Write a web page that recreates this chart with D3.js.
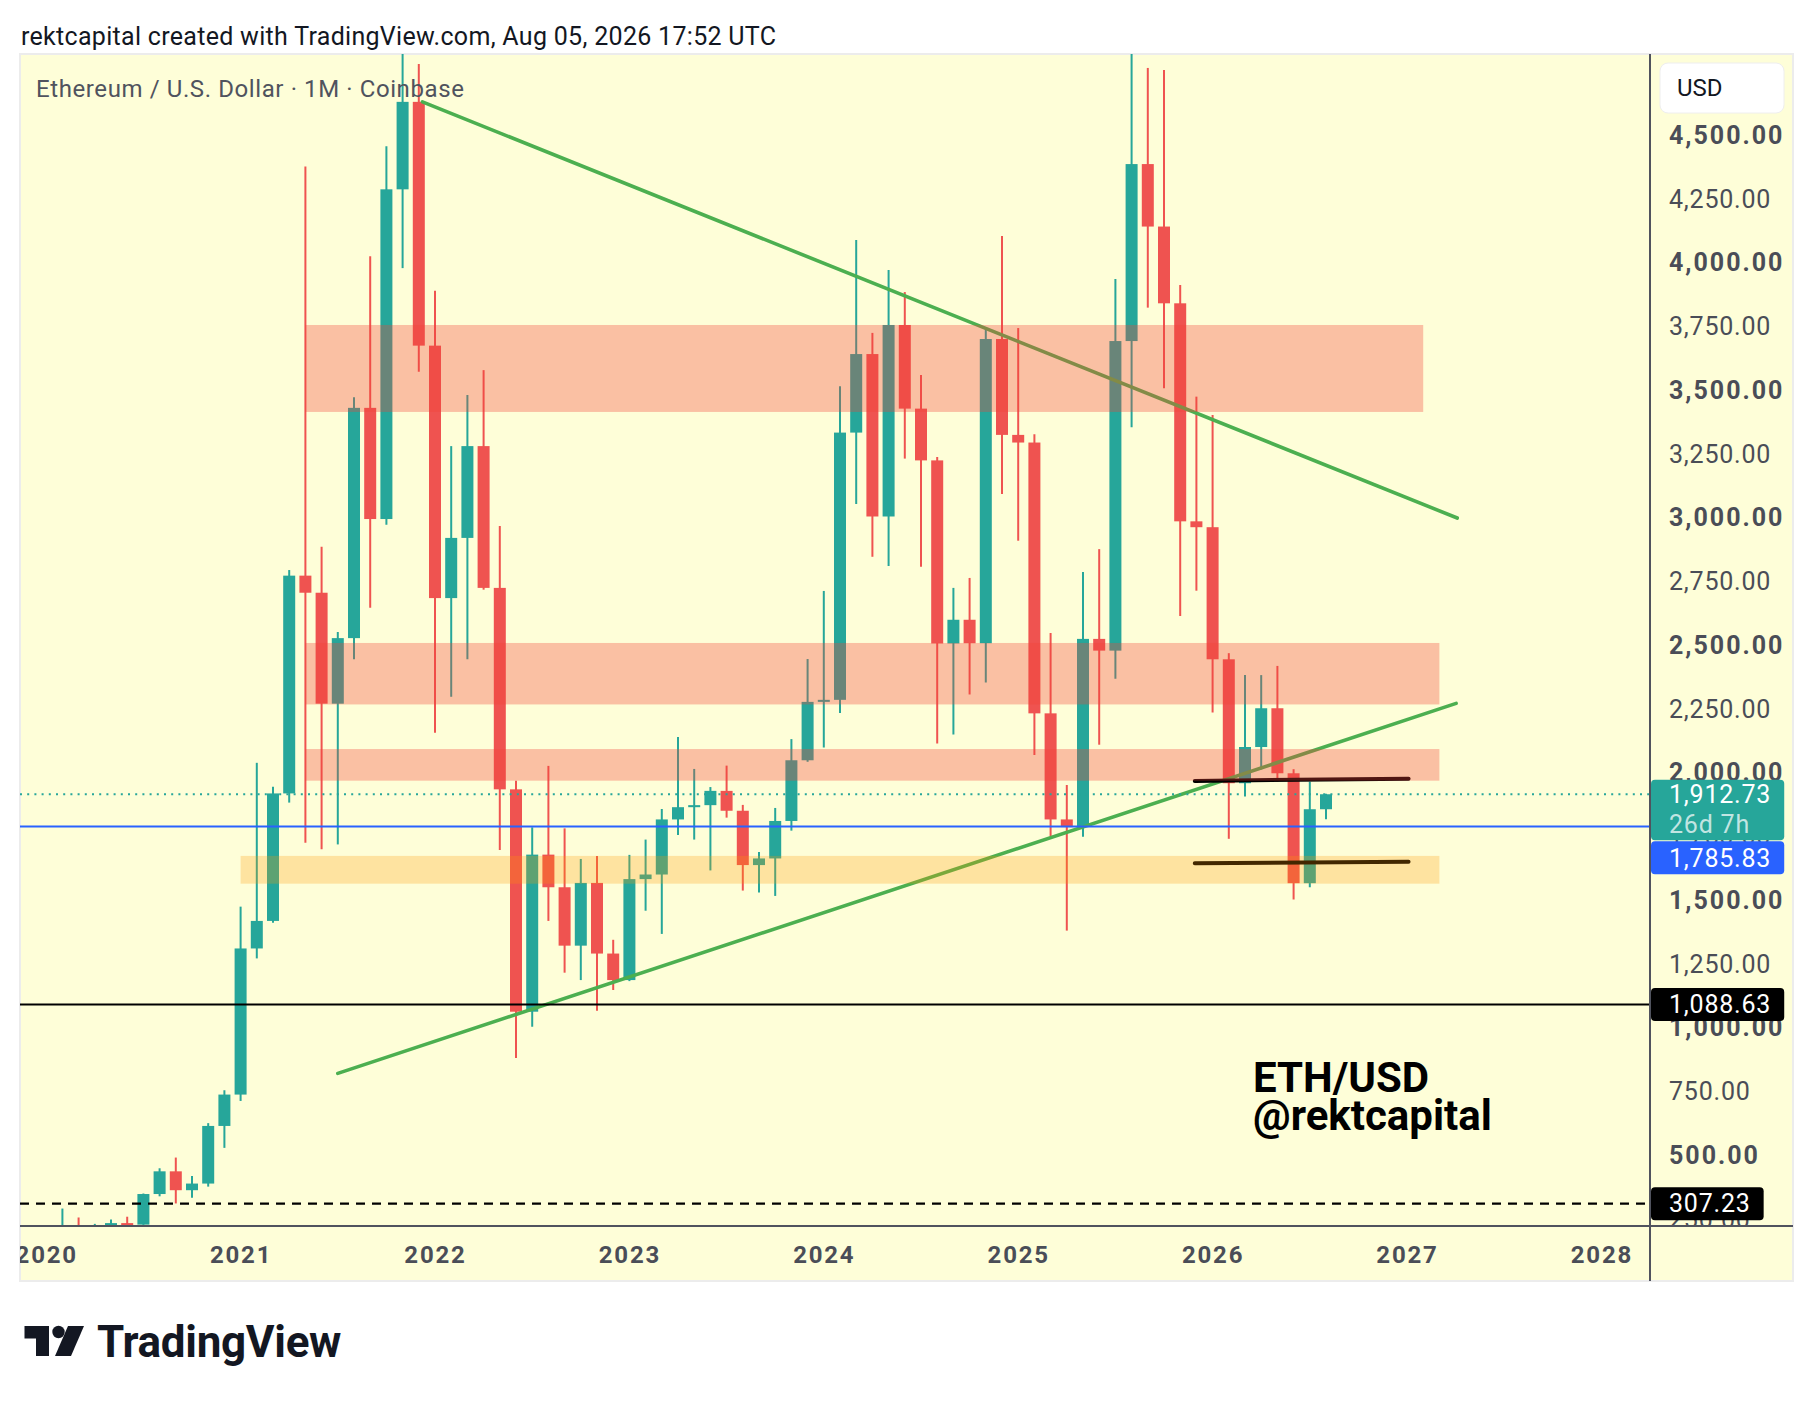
<!DOCTYPE html>
<html>
<head>
<meta charset="utf-8">
<script src="https://cdn.jsdelivr.net/npm/d3@7"></script>
<style>
  html, body { margin: 0; padding: 0; background: #ffffff; }
  svg { display: block; }
</style>
</head>
<body>
<script>
// ETH/USD monthly bars, Jan 2020 -> Aug 2026
const months = [
  '2020-01','2020-02','2020-03','2020-04','2020-05','2020-06','2020-07','2020-08','2020-09','2020-10','2020-11','2020-12',
  '2021-01','2021-02','2021-03','2021-04','2021-05','2021-06','2021-07','2021-08','2021-09','2021-10','2021-11','2021-12',
  '2022-01','2022-02','2022-03','2022-04','2022-05','2022-06','2022-07','2022-08','2022-09','2022-10','2022-11','2022-12',
  '2023-01','2023-02','2023-03','2023-04','2023-05','2023-06','2023-07','2023-08','2023-09','2023-10','2023-11','2023-12',
  '2024-01','2024-02','2024-03','2024-04','2024-05','2024-06','2024-07','2024-08','2024-09','2024-10','2024-11','2024-12',
  '2025-01','2025-02','2025-03','2025-04','2025-05','2025-06','2025-07','2025-08','2025-09','2025-10','2025-11','2025-12',
  '2026-01','2026-02','2026-03','2026-04','2026-05','2026-06','2026-07','2026-08'
];
const open = [
  129,179,218,133,206,231,225,345,434,360,386,612,
  735,1308,1416,1916,2770,2703,2268,2525,3428,2992,4285,4628,
  3672,2682,2918,3278,2722,1932,1060,1676,1548,1319,1565,1288,
  1184,1580,1598,1814,1862,1870,1926,1848,1635,1661,1808,2046,
  2275,2283,3331,3639,3002,3753,3425,3222,2504,2597,2505,3698,
  3322,3292,2230,1814,1784,2522,2476,3690,4384,4139,3838,2983,
  2960,2442,1956,2098,2250,1995,1564,1854
];
const high = [
  183,288,253,228,245,256,347,446,488,416,623,752,
  1472,2036,1942,2792,4375,2883,2549,3470,4023,4454,4868,4776,
  3887,3278,3478,3576,2965,1966,1783,2024,1779,1659,1671,1342,
  1675,1735,1855,2137,2012,1941,2025,1871,1686,1859,2129,2443,
  2710,3513,4086,3722,3969,3882,3557,3235,2722,2761,3736,4102,
  3741,3325,2545,1949,2784,2874,3933,4956,4761,4753,3910,3472,
  3400,2466,2380,2380,2416,2011,1962,1915
];
const low = [
  127,179,90,130,177,215,224,336,308,330,374,526,
  710,1269,1409,1880,1723,1697,1716,2442,2644,2970,3976,3570,
  2154,2295,2442,2715,1694,878,1001,1416,1213,1184,1064,1145,
  1180,1456,1365,1753,1735,1614,1821,1535,1527,1514,1770,2040,
  2096,2231,3051,2844,2808,3229,2805,2112,2147,2304,2351,3090,
  2907,2067,1749,1378,1746,2107,2366,3352,3821,3505,2612,2711,
  2233,1738,1904,2010,1962,1500,1548,1815
];
const close = [
  179,218,133,206,231,225,345,434,360,386,612,735,
  1308,1416,1916,2770,2703,2268,2525,3428,2992,4285,4628,3672,
  2682,2918,3278,2722,1932,1060,1676,1548,1319,1565,1288,1184,
  1580,1598,1814,1862,1870,1926,1848,1635,1661,1808,2046,2275,
  2283,3331,3639,3002,3753,3425,3222,2504,2597,2505,3698,3322,
  3292,2230,1814,1784,2522,2476,3690,4384,4139,3838,2983,2960,
  2442,1956,2098,2250,1995,1564,1854,1912.73
];

const yearLabels = ['2020','2021','2022','2023','2024','2025','2026','2027','2028'];
const priceTicks = [250,500,750,1000,1250,1500,1750,2000,2250,2500,2750,3000,3250,3500,3750,4000,4250,4500];

// drawn zones (supply in red, demand in orange)
const zoneStart  = ['2021-05','2021-05','2021-05','2021-01'];
const zoneEnd    = ['2027-02','2027-03','2027-03','2027-03'];
const zoneTop    = [3753, 2506, 2090, 1671];
const zoneBottom = [3412, 2265, 1966, 1562];
const zoneKind   = ['supply','supply','supply','demand'];

// trendlines: start date / price -> end date / price
const greenFrom  = ['2021-12-08', '2021-07-01'];
const greenFromP = [4628, 818];
const greenTo    = ['2027-04-04', '2027-04-02'];
const greenToP   = [2996, 2269];

const blackFrom  = ['2025-11-28', '2025-11-28'];
const blackFromP = [1965, 1642];
const blackTo    = ['2027-01-04', '2027-01-04'];
const blackToP   = [1974, 1648];

// horizontal price lines
const linePrice = [1912.73, 1785.83, 1088.63, 307.23];
const lineKind  = ['last', 'blue', 'black', 'dashed'];
const countdown = '26d 7h';


const W = 1814, H = 1402;
const plot = {left: 20, right: 1650, top: 54, bottom: 1226};
const frame = {left: 20, right: 1793, top: 54, bottom: 1281};
const UP = '#26a69a', DOWN = '#ef5350';
const AXIS_FONT = 'Roboto, "Noto Sans", sans-serif';

function monthIndex(s) {
	// "YYYY-MM" or "YYYY-MM-DD" -> bar index counted from Jan 2020
	const p = s.split('-').map(Number);
	let idx = (p[0] - 2020) * 12 + (p[1] - 1);
	if (p.length > 2) {
		idx += (p[2] - 1) / new Date(p[0], p[1], 0).getDate();
	}
	return idx;
}

const x = d3.scaleLinear().domain([0, 96]).range([46.2, 1601.4]);
const y = d3.scaleLinear().domain([500, 4500]).range([1154.5, 134.5]);

const bars = months.map((m, i) => ({
	t: monthIndex(m), o: open[i], h: high[i], l: low[i], c: close[i]
}));

const svg = d3.select('body').append('svg')
	.attr('width', W)
	.attr('height', H);

const defs = svg.append('defs');
defs.append('clipPath').attr('id', 'plotClip')
	.append('rect')
	.attr('x', plot.left).attr('y', plot.top)
	.attr('width', plot.right - plot.left).attr('height', plot.bottom - plot.top);
defs.append('clipPath').attr('id', 'axisClip')
	.append('rect')
	.attr('x', plot.right + 1).attr('y', plot.top)
	.attr('width', frame.right - plot.right - 1).attr('height', plot.bottom - plot.top);
defs.append('clipPath').attr('id', 'timeClip')
	.append('rect')
	.attr('x', plot.left).attr('y', plot.bottom)
	.attr('width', plot.right - plot.left).attr('height', frame.bottom - plot.bottom);

// header line above the chart
svg.append('text')
	.attr('x', 21)
	.attr('y', 36)
	.attr('dy', '0.35em')
	.attr('font-family', AXIS_FONT)
	.attr('font-size', 25)
	.attr('letter-spacing', 0.3)
	.attr('fill', '#131722')
	.text('rektcapital created with TradingView.com, Aug 05, 2026 17:52 UTC');

// chart background
svg.append('rect')
	.attr('x', frame.left)
	.attr('y', frame.top)
	.attr('width', frame.right - frame.left)
	.attr('height', frame.bottom - frame.top)
	.attr('fill', '#fefed8')
	.attr('stroke', '#ececec')
	.attr('stroke-width', 2);

const chart = svg.append('g').attr('clip-path', 'url(#plotClip)');

// CANDLES
const candles = chart.append('g').classed('candles', true);
candles.selectAll('line')
	.data(bars)
	.join('line')
	.attr('x1', d => x(d.t))
	.attr('x2', d => x(d.t))
	.attr('y1', d => y(d.h))
	.attr('y2', d => y(d.l))
	.attr('stroke', d => d.c >= d.o ? UP : DOWN)
	.attr('stroke-width', 2);
candles.selectAll('rect')
	.data(bars)
	.join('rect')
	.attr('x', d => x(d.t) - 6)
	.attr('width', 12)
	.attr('y', d => y(Math.max(d.o, d.c)))
	.attr('height', d => Math.max(2, Math.abs(y(d.o) - y(d.c))))
	.attr('fill', d => d.c >= d.o ? UP : DOWN);

// TRENDLINES
const lines = chart.append('g').classed('trendlines', true);
greenFrom.forEach((f, i) => {
	lines.append('line')
		.attr('x1', x(monthIndex(f)))
		.attr('y1', y(greenFromP[i]))
		.attr('x2', x(monthIndex(greenTo[i])))
		.attr('y2', y(greenToP[i]))
		.attr('stroke', '#4caf50')
		.attr('stroke-width', 3.6)
		.attr('stroke-linecap', 'round');
});
blackFrom.forEach((f, i) => {
	lines.append('line')
		.attr('x1', x(monthIndex(f)))
		.attr('y1', y(blackFromP[i]))
		.attr('x2', x(monthIndex(blackTo[i])))
		.attr('y2', y(blackToP[i]))
		.attr('stroke', '#000000')
		.attr('stroke-width', 4)
		.attr('stroke-linecap', 'round');
});

// ZONES (semi transparent, on top of the candles)
const zones = chart.append('g').classed('zones', true);
zoneStart.forEach((s, i) => {
	zones.append('rect')
		.attr('x', x(monthIndex(s)))
		.attr('width', x(monthIndex(zoneEnd[i])) - x(monthIndex(s)))
		.attr('y', y(zoneTop[i]))
		.attr('height', y(zoneBottom[i]) - y(zoneTop[i]))
		.attr('fill', zoneKind[i] == 'supply' ? 'rgba(244,67,54,0.33)' : 'rgba(255,152,0,0.26)');
});

// HORIZONTAL PRICE LINES
const priceLines = chart.append('g').classed('price-lines', true);
linePrice.forEach((p, i) => {
	const kind = lineKind[i];
	const ln = priceLines.append('line')
		.attr('x1', plot.left)
		.attr('x2', plot.right)
		.attr('y1', y(p))
		.attr('y2', y(p));
	if (kind == 'last') {
		ln.attr('stroke', UP).attr('stroke-width', 2).attr('stroke-dasharray', '2 5.2');
	} else if (kind == 'blue') {
		ln.attr('stroke', '#2962ff').attr('stroke-width', 2);
	} else if (kind == 'black') {
		ln.attr('stroke', '#000000').attr('stroke-width', 2);
	} else {
		ln.attr('stroke', '#000000').attr('stroke-width', 2.4).attr('stroke-dasharray', '9 7');
	}
});

// chart title
svg.append('text')
	.attr('x', 36)
	.attr('y', 89)
	.attr('dy', '0.35em')
	.attr('font-family', AXIS_FONT)
	.attr('font-size', 24)
	.attr('letter-spacing', 0.6)
	.attr('fill', '#50535e')
	.text('Ethereum / U.S. Dollar \u00b7 1M \u00b7 Coinbase');

// watermark text
const sig = svg.append('text')
	.attr('font-family', AXIS_FONT)
	.attr('font-size', 42)
	.attr('font-weight', 700)
	.attr('fill', '#000000');
sig.append('tspan').attr('x', 1253).attr('y', 1092).text('ETH/USD');
sig.append('tspan').attr('x', 1253).attr('y', 1130).text('@rektcapital');

// PRICE AXIS
const yAxis = d3.axisRight(y)
	.tickValues(priceTicks)
	.tickFormat(d3.format(',.2f'))
	.tickSize(0)
	.tickPadding(0);
const gy = svg.append('g')
	.attr('clip-path', 'url(#axisClip)')
	.append('g')
	.attr('transform', 'translate(1669,0)')
	.call(yAxis)
	.attr('font-family', AXIS_FONT)
	.attr('font-size', 25);
gy.select('.domain').remove();
gy.selectAll('.tick text')
	.attr('fill', '#4a4d57')
	.attr('dy', '0.35em')
	.attr('font-weight', d => d % 500 === 0 ? 700 : 400)
	.attr('letter-spacing', d => d % 500 === 0 ? 2.0 : 0.8);

// TIME AXIS
const xAxis = d3.axisBottom(x)
	.tickValues(yearLabels.map(s => monthIndex(s + '-01')))
	.tickFormat((d, i) => yearLabels[i])
	.tickSize(0)
	.tickPadding(0);
const gx = svg.append('g')
	.attr('clip-path', 'url(#timeClip)')
	.append('g')
	.attr('transform', 'translate(0,1255)')
	.call(xAxis)
	.attr('font-family', AXIS_FONT)
	.attr('font-size', 24);
gx.select('.domain').remove();
gx.selectAll('.tick text')
	.attr('fill', '#4a4d57')
	.attr('y', 0)
	.attr('dy', '0.35em')
	.attr('font-weight', 700)
	.attr('letter-spacing', 1.8);

// axis separators
svg.append('line')
	.attr('x1', plot.right).attr('x2', plot.right)
	.attr('y1', frame.top).attr('y2', frame.bottom)
	.attr('stroke', '#50535e').attr('stroke-width', 2);
svg.append('line')
	.attr('x1', frame.left).attr('x2', frame.right)
	.attr('y1', plot.bottom).attr('y2', plot.bottom)
	.attr('stroke', '#50535e').attr('stroke-width', 2);

// currency button
svg.append('rect')
	.attr('x', 1660).attr('y', 63)
	.attr('width', 124).attr('height', 50)
	.attr('rx', 8)
	.attr('fill', '#ffffff')
	.attr('stroke', '#eeeeee');
svg.append('text')
	.attr('x', 1677).attr('y', 88).attr('dy', '0.35em')
	.attr('font-family', AXIS_FONT)
	.attr('font-size', 24)
	.attr('fill', '#131722')
	.text('USD');

// PRICE LABELS on the axis (they sit over the tick labels, as in TradingView)
const labels = svg.append('g').classed('price-labels', true);
let lastBottom = -Infinity;
linePrice.forEach((p, i) => {
	const kind = lineKind[i];
	const h = kind == 'last' ? 60.5 : 33;
	let top = kind == 'last' ? y(p) - 14.5 : y(p) - h / 2;
	if (top < lastBottom) top = lastBottom + 1;
	lastBottom = top + h;

	const fill = kind == 'last' ? UP : (kind == 'blue' ? '#2962ff' : '#000000');
	const box = labels.append('rect')
		.attr('x', plot.right + 1)
		.attr('y', top)
		.attr('height', h)
		.attr('rx', 4)
		.attr('fill', fill);
	const txt = labels.append('text')
		.attr('x', 1669)
		.attr('y', top + (kind == 'last' ? 14.5 : h / 2))
		.attr('dy', '0.35em')
		.attr('font-family', AXIS_FONT)
		.attr('font-size', 25)
		.attr('letter-spacing', 0.8)
		.attr('fill', '#ffffff')
		.text(d3.format(',.2f')(p));
	const tw = txt.node().getComputedTextLength();
	box.attr('width', 1669 + tw + 13 - (plot.right + 1));
	if (kind == 'last') {
		labels.append('text')
			.attr('x', 1669)
			.attr('y', top + 44)
			.attr('dy', '0.35em')
			.attr('font-family', AXIS_FONT)
			.attr('font-size', 25)
			.attr('letter-spacing', 0.8)
			.attr('fill', 'rgba(255,255,255,0.72)')
			.text(countdown);
	}
});

// TradingView logo below the chart
const logo = svg.append('g').attr('fill', '#131722');
logo.append('path')
	.attr('d', 'M24.5,1326 H49 V1356 H36 V1338.5 H24.5 Z');
logo.append('circle')
	.attr('cx', 58.5).attr('cy', 1332).attr('r', 6.2);
logo.append('path')
	.attr('d', 'M68,1326 H84 L71,1356 H55 Z');
logo.append('text')
	.attr('x', 97)
	.attr('y', 1357)
	.attr('font-family', AXIS_FONT)
	.attr('font-size', 44)
	.attr('font-weight', 700)
	.attr('letter-spacing', -0.3)
	.text('TradingView');
</script>
</body>
</html>
